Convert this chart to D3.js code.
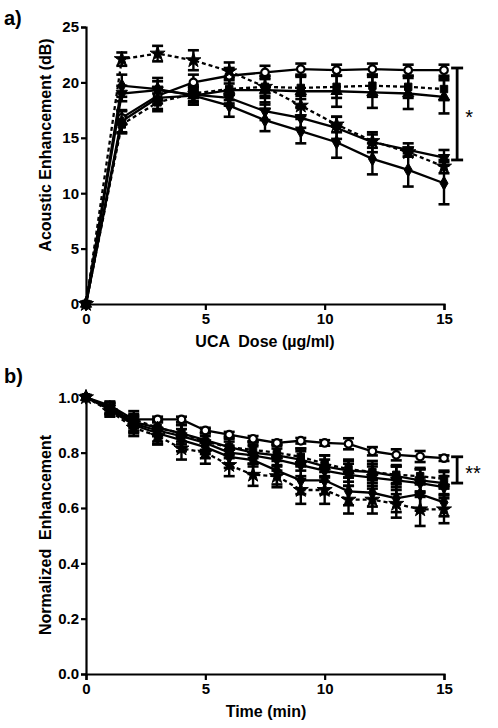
<!DOCTYPE html>
<html><head><meta charset="utf-8">
<script src="https://cdn.jsdelivr.net/npm/d3@7"></script>
<style>
body{margin:0;background:#fff;}
text{font-family:"Liberation Sans",Arial,sans-serif;font-weight:bold;fill:#000;white-space:pre;}
</style></head>
<body><svg id="c" width="498" height="728"></svg>
<script>
// ---------- Panel a data ----------
const doseX = [0,1.5,3,4.5,6,7.5,9,10.5,12,13.5,15];
const aCircle  = [0,16.8,18.8,20.0,20.6,20.9,21.2,21.1,21.2,21.1,21.1];
const aSquare  = [0,16.2,18.2,19.0,19.4,19.6,19.5,19.6,19.7,19.6,19.4];
const aTriUp   = [0,16.5,18.6,18.8,19.3,19.3,19.2,19.2,19.1,19.0,18.7];
const aTriDown = [0,19.0,19.3,18.9,18.6,17.4,16.8,15.9,14.6,13.9,13.2];
const aDiamond = [0,19.7,19.4,18.8,17.9,16.6,15.6,14.6,13.1,12.1,10.9];
const aStar    = [0,22.1,22.6,22.0,21.0,19.6,17.9,16.2,14.7,13.7,12.4];
const aCircleErr  = [0,0.6,0.7,0.7,0.7,0.6,0.5,0.5,0.5,0.5,0.5];
const aSquareErr  = [0,0.8,0.8,0.8,1.0,1.0,1.0,1.0,1.0,1.0,1.0];
const aTriUpErr   = [0,1.0,1.0,0.8,1.2,1.3,1.4,1.4,1.4,1.4,1.5];
const aTriDownErr = [0,0.7,0.8,0.6,0.7,0.8,0.9,1.0,0.9,0.6,0.7];
const aDiamondErr = [0,1.0,1.0,0.8,1.0,1.0,1.1,1.4,1.4,1.5,1.9];
const aStarErr    = [0,0.6,0.7,0.9,0.8,0.8,0.9,0.7,0.6,0.4,0.6];
const aXTicks = [0,5,10,15];
const aYTicks = [0,5,10,15,20,25];

// ---------- Panel b data ----------
const timeX = [0,1,2,3,4,5,6,7,8,9,10,11,12,13,14,15];
const bCircle  = [1.00,0.97,0.92,0.92,0.92,0.88,0.865,0.85,0.835,0.843,0.835,0.832,0.805,0.792,0.786,0.78];
const bSquare  = [1.00,0.96,0.92,0.89,0.87,0.84,0.82,0.81,0.80,0.785,0.76,0.74,0.73,0.72,0.715,0.705];
const bTriUp   = [1.00,0.965,0.91,0.89,0.87,0.845,0.82,0.80,0.79,0.775,0.75,0.735,0.73,0.715,0.70,0.69];
const bTriDown = [1.00,0.96,0.905,0.88,0.86,0.835,0.80,0.79,0.775,0.755,0.735,0.72,0.71,0.70,0.69,0.675];
const bDiamond = [1.00,0.955,0.90,0.87,0.845,0.82,0.785,0.773,0.735,0.70,0.70,0.66,0.655,0.635,0.65,0.62];
const bStar    = [1.00,0.95,0.89,0.86,0.815,0.80,0.755,0.72,0.715,0.665,0.665,0.63,0.63,0.615,0.595,0.595];
const bCircleErr  = [0,0.01,0.01,0.01,0.01,0.01,0.01,0.01,0.01,0.01,0.01,0.02,0.015,0.02,0.02,0.01];
const bSquareErr  = [0,0.02,0.03,0.03,0.03,0.03,0.03,0.03,0.03,0.03,0.03,0.03,0.03,0.03,0.03,0.03];
const bTriUpErr   = [0,0.02,0.03,0.03,0.04,0.04,0.04,0.04,0.04,0.04,0.04,0.04,0.04,0.04,0.04,0.04];
const bTriDownErr = [0,0.02,0.03,0.04,0.04,0.04,0.04,0.04,0.04,0.05,0.04,0.04,0.04,0.05,0.05,0.04];
const bDiamondErr = [0,0.02,0.03,0.04,0.04,0.04,0.04,0.05,0.05,0.05,0.05,0.05,0.05,0.05,0.06,0.05];
const bStarErr    = [0,0.02,0.03,0.03,0.04,0.04,0.04,0.04,0.04,0.05,0.05,0.05,0.05,0.05,0.06,0.05];
const bXTicks = [0,5,10,15];
const bYTicks = [0,0.2,0.4,0.6,0.8,1.0];

const seriesStyle = [
  {name:"circle",  sym:d3.symbolCircle,  fill:"#fff", dash:null},
  {name:"square",  sym:d3.symbolSquare,  fill:"#000", dash:"4,3"},
  {name:"triUp",   sym:d3.symbolTriangle,fill:"#000", dash:null, rot:0},
  {name:"triDown", sym:d3.symbolTriangle,fill:"#000", dash:null, rot:180},
  {name:"diamond", sym:d3.symbolDiamond, fill:"#000", dash:null},
  {name:"star",    sym:d3.symbolStar,    fill:"#000", dash:"4,3"}
];

const svg = d3.select("#c");

function panel(cfg){
  const x = d3.scaleLinear().domain([0,15]).range([86,444]);
  const y = d3.scaleLinear().domain(cfg.yDomain).range([cfg.bottom,cfg.top]);
  const g = svg.append("g");

  // error bars
  cfg.series.forEach((s,i)=>{
    s.vals.forEach((v,j)=>{
      const e = s.err[j]; if(!e) return;
      const cx = x(cfg.xs[j]);
      g.append("line").attr("x1",cx).attr("x2",cx).attr("y1",y(v-e)).attr("y2",y(v+e))
        .attr("stroke","#000").attr("stroke-width",2.4);
      [v-e,v+e].forEach(w=>g.append("line").attr("x1",cx-5.5).attr("x2",cx+5.5).attr("y1",y(w)).attr("y2",y(w))
        .attr("stroke","#000").attr("stroke-width",2.6));
    });
  });
  // lines
  cfg.series.forEach((s,i)=>{
    const st = seriesStyle[i];
    const line = d3.line().x((d,j)=>x(cfg.xs[j])).y(d=>y(d));
    g.append("path").datum(s.vals).attr("d",line).attr("fill","none")
      .attr("stroke","#000").attr("stroke-width",2.3)
      .attr("stroke-dasharray",st.dash);
  });
  // markers
  cfg.series.forEach((s,i)=>{
    const st = seriesStyle[i];
    const sz = st.name==="circle"?45:(st.name==="star"?70:55);
    s.vals.forEach((v,j)=>{
      g.append("path").attr("d",d3.symbol().type(st.sym).size(sz)())
        .attr("transform",`translate(${x(cfg.xs[j])},${y(v)}) rotate(${st.rot||0})`)
        .attr("fill",st.fill).attr("stroke","#000").attr("stroke-width",st.name==="circle"?2.2:1);
    });
  });

  // axes
  const xa = g.append("g").attr("transform",`translate(0,${cfg.bottom})`)
    .call(d3.axisBottom(x).tickValues(cfg.xTicks).tickSize(6).tickPadding(3).tickFormat(d3.format("d")));
  const ya = g.append("g").attr("transform",`translate(86,0)`)
    .call(d3.axisLeft(y).tickValues(cfg.yTicks).tickSize(5).tickPadding(2).tickFormat(cfg.yFmt));
  [xa,ya].forEach(a=>{
    a.select(".domain").attr("stroke-width",2.2);
    a.selectAll(".tick line").attr("stroke-width",2.2);
    a.selectAll("text").style("font-size","15px").style("font-family","Liberation Sans, Arial").style("font-weight","bold");
  });

  // bracket
  const bx = x(cfg.bracket.x);
  g.append("line").attr("x1",bx).attr("x2",bx).attr("y1",y(cfg.bracket.y1)).attr("y2",y(cfg.bracket.y2))
    .attr("stroke","#000").attr("stroke-width",2.8);
  [cfg.bracket.y1,cfg.bracket.y2].forEach(w=>g.append("line").attr("x1",bx-6).attr("x2",bx+6)
    .attr("y1",y(w)).attr("y2",y(w)).attr("stroke","#000").attr("stroke-width",2.8));
  g.append("text").attr("x",bx+8).attr("y",(y(cfg.bracket.y1)+y(cfg.bracket.y2))/2+10)
    .style("font-size","20px").style("font-weight","normal").text(cfg.bracket.label);

  // titles
  g.append("text").attr("x",cfg.xTitleX).attr("y",cfg.xTitleY).attr("text-anchor","middle")
    .style("font-size","16px").text(cfg.xTitle);
  g.append("text").attr("transform",`translate(${cfg.yTitleX},${cfg.yTitleCY}) rotate(-90)`)
    .attr("text-anchor","middle").style("font-size","16px").text(cfg.yTitle);
  g.append("text").attr("x",4).attr("y",cfg.labelY).style("font-size","20px").text(cfg.label);
}

panel({
  xs: doseX, yDomain:[0,25], top:27, bottom:304,
  series:[{vals:aCircle,err:aCircleErr},{vals:aSquare,err:aSquareErr},{vals:aTriUp,err:aTriUpErr},
          {vals:aTriDown,err:aTriDownErr},{vals:aDiamond,err:aDiamondErr},{vals:aStar,err:aStarErr}],
  xTicks:aXTicks, yTicks:aYTicks, yFmt:d3.format("d"),
  bracket:{x:15.55,y1:21.3,y2:13.0,label:"*"},
  xTitle:"UCA  Dose (\u00b5g/ml)", xTitleX:265, xTitleY:347,
  yTitle:"Acoustic Enhancement (dB)", yTitleX:51, yTitleCY:145,
  label:"a)", labelY:25
});

panel({
  xs: timeX, yDomain:[0,1], top:397.3, bottom:674,
  series:[{vals:bCircle,err:bCircleErr},{vals:bSquare,err:bSquareErr},{vals:bTriUp,err:bTriUpErr},
          {vals:bTriDown,err:bTriDownErr},{vals:bDiamond,err:bDiamondErr},{vals:bStar,err:bStarErr}],
  xTicks:bXTicks, yTicks:bYTicks, yFmt:d3.format(".1f"),
  bracket:{x:15.55,y1:0.785,y2:0.69,label:"**"},
  xTitle:"Time (min)", xTitleX:266, xTitleY:717,
  yTitle:"Normalized  Enhancement", yTitleX:51, yTitleCY:535,
  label:"b)", labelY:383
});
</script></body></html>
